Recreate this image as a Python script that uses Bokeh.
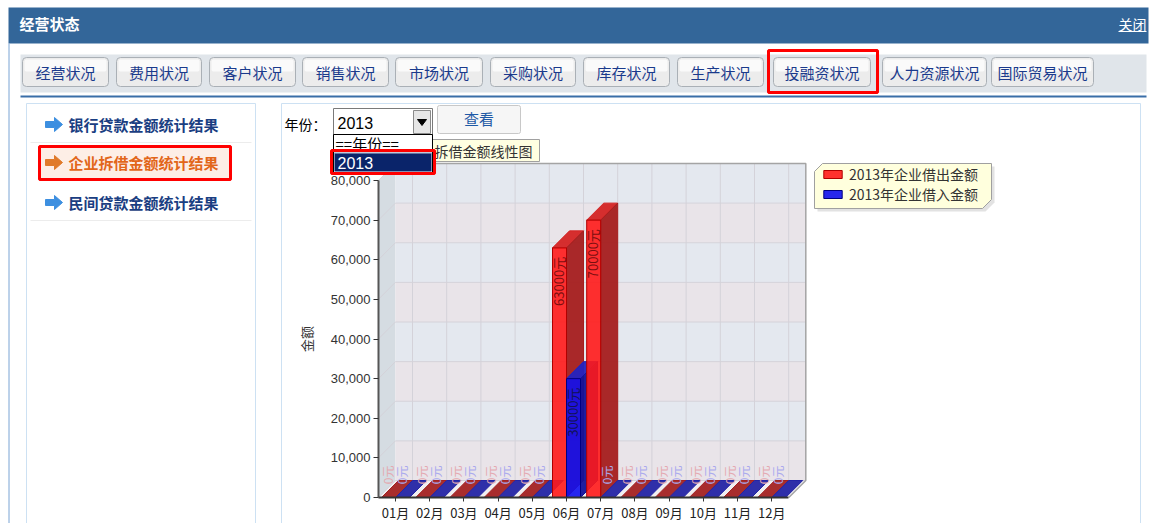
import math
from bokeh.plotting import figure
from bokeh.models import (Range1d, LinearAxis, FixedTicker, NumeralTickFormatter,
                          Legend, LegendItem)
from bokeh.core.properties import value
from bokeh.embed import file_html
from bokeh.resources import INLINE

# ---------------- data ----------------
months = ["01月", "02月", "03月", "04月", "05月", "06月",
          "07月", "08月", "09月", "10月", "11月", "12月"]
lent_out = [0, 0, 0, 0, 0, 63000, 70000, 0, 0, 0, 0, 0]      # 2013年企业借出金额
borrowed_in = [0, 0, 0, 0, 0, 30000, 0, 0, 0, 0, 0, 0]       # 2013年企业借入金额
series_names = ["2013年企业借出金额", "2013年企业借入金额"]
y_ticks = [0, 10000, 20000, 30000, 40000, 50000, 60000, 70000, 80000]
value_unit = "元"
y_title = "金额"
chart_title = "拆借金额线性图"
header_title = "经营状态"
close_text = "关闭"
tabs = ["经营状况", "费用状况", "客户状况", "销售状况", "市场状况", "采购状况",
        "库存状况", "生产状况", "投融资状况", "人力资源状况", "国际贸易状况"]
side_menu = ["银行贷款金额统计结果", "企业拆借金额统计结果", "民间贷款金额统计结果"]
year_label = "年份："
year_options = ["==年份==", "2013"]
view_button = "查看"

# ---------------- page geometry (pixels) ----------------
W, H = 1154, 523
PX_L, PX_R, PX_T, PX_B = 0, W, 0, H
CJK_NAME, LAT_NAME = "Noto Sans CJK SC", "Liberation Sans"
CJK = value(CJK_NAME)
LAT = value(LAT_NAME)

p = figure(width=W, height=H, x_range=Range1d(PX_L, PX_R), y_range=Range1d(PX_B, PX_T),
           x_axis_type=None, y_axis_type=None, toolbar_location=None,
           output_backend="svg", min_border=0, outline_line_color=None,
           background_fill_color="white", border_fill_color="white")


def box(l, r, t, b, fill, line=None, lw=1, **kw):
    return p.quad(left=[l], right=[r], top=[t], bottom=[b], fill_color=fill,
                  line_color=line, line_width=lw, **kw)


def txt(x, y, s, size="14px", color="#000000", font=CJK, align="left", style="normal"):
    p.text(x=[x], y=[y], text=[s], text_font=font, text_font_size=size,
           text_color=color, text_align=align, text_baseline="middle",
           text_font_style=style)


# ---------------- page chrome ----------------
box(8, 1148, 7, 43, "#336699")
txt(19, 23, header_title, "15px", "white", style="bold")
txt(1146, 23, close_text, "14px", "white", align="right")
p.segment(x0=[1118], x1=[1146], y0=[31], y1=[31], line_color="white", line_width=1)
p.segment(x0=[8.5], x1=[8.5], y0=[43], y1=[PX_B], line_color="#7aa4d4", line_width=1)

box(20, 1146, 54, 92, "#e0e5ea")
tab_x = [(22, 108), (116, 201), (209, 295), (302, 388), (395, 482), (490, 575),
         (583, 669), (677, 763), (773, 870), (882, 986), (991, 1093)]
for (l, r), name in zip(tab_x, tabs):
    box(l, r, 57, 86, "#ececec", "#aab0b6", border_radius=4)
    box(l + 2, r - 2, 59, 71, "#fafafa", border_radius=2)
    txt((l + r) / 2, 71.5, name, "15px", "#1a3a8c", align="center")
box(768, 877, 50, 92, None, "#ff0000", 3)
box(20, 1146, 95, 97, "#3a6ea8")

# left menu panel
box(26, 255, 103, PX_B + 20, "white", "#cde1f3")
p.segment(x0=[30, 30], x1=[251, 251], y0=[142, 220], y1=[142, 220], line_color="#ececec")
box(40, 229, 147, 178, "#fdeee6")
menu_y = [124, 162, 202]
menu_col = ["#1a3e82", "#e2661a", "#1a3e82"]
arrow_col = ["#3d8fe0", "#e07a2a", "#3d8fe0"]
axs, ays = [], []
for cy in menu_y:
    axs.append([45, 54, 54, 62, 54, 54, 45])
    ays.append([cy - 3, cy - 3, cy - 7, cy, cy + 7, cy + 3, cy + 3])
p.patches(xs=axs, ys=ays, fill_color=arrow_col, line_color=arrow_col)
for cy, name, c in zip(menu_y, side_menu, menu_col):
    txt(68, cy, name, "15px", c, style="bold")
box(39, 230, 146, 179, None, "#ff0000", 3)

# chart panel
box(281, 1140, 103, PX_B + 20, "white", "#cde1f3")
txt(284, 123, year_label, "14px", "#000000")
box(333, 432, 108, 135, "white", "#7a7a7a")
box(413, 430, 110, 133, "#e6e6e6", "#8a8a8a")
p.patch(x=[417, 426, 421.5], y=[119, 119, 125], fill_color="black", line_color="black")
txt(337, 122, year_options[1], "16px", "#000000", font=LAT)
box(437, 520, 105, 133, "#f6f6f6", "#c8c8c8", border_radius=2)
txt(478.5, 118, view_button, "15px", "#1f5aa6", align="center")
box(432, 539, 139, 161, "#ffffe1", "#a0a0a0")
txt(434, 150, chart_title, "14px", "#333333")

# ---------------- chart scales ----------------
AX_X, ZERO_Y, TOP_Y = 378, 497, 180
M0_X, M_STEP = 395, 34.2
DEPTH, BAR_PX = 17, 14
top_v = y_ticks[-1]
K = top_v / (ZERO_Y - TOP_Y)
p.extra_y_ranges = {"amt": Range1d(-(PX_B - ZERO_Y) * K, top_v + (TOP_Y - PX_T) * K)}
p.extra_x_ranges = {"mo": Range1d((PX_L - M0_X) / M_STEP, (PX_R - M0_X) / M_STEP)}
ddx, ddy, bw = DEPTH / M_STEP, DEPTH * K, BAR_PX / M_STEP
x_lo, x_hi = -0.5, len(months) - 0.5
RN = dict(x_range_name="mo", y_range_name="amt")

# walls
p.patch(x=[x_lo, x_lo, x_lo + ddx, x_lo + ddx], y=[0, top_v, top_v + ddy, ddy],
        fill_color="#d5dce2", line_color=None, **RN)
band_col = ["#e9e4e9" if k % 2 == 0 else "#e4e8ef" for k in range(len(y_ticks) - 1)]
p.quad(left=x_lo + ddx, right=x_hi + ddx, bottom=[t + ddy for t in y_ticks[:-1]],
       top=[t + ddy for t in y_ticks[1:]], fill_color=band_col, line_color=None, **RN)
p.patch(x=[x_lo, x_hi, x_hi + ddx, x_lo + ddx], y=[0, 0, ddy, ddy],
        fill_color="#f1eff1", line_color=None, **RN)
gx, gy = [], []
for t in y_ticks:
    gx.append([x_lo, x_lo + ddx, x_hi + ddx]); gy.append([t, t + ddy, t + ddy])
for i in range(len(months)):
    gx.append([i + ddx, i + ddx]); gy.append([ddy, top_v + ddy])
p.multi_line(xs=gx, ys=gy, line_color="#d4d2d9", line_width=1, **RN)
p.multi_line(xs=[[x_lo + ddx, x_hi + ddx, x_hi + ddx, x_hi]],
             ys=[[top_v + ddy, top_v + ddy, ddy, 0]], line_color="#a4a4a4", line_width=1.5, **RN)

# 3D bars
styles = [dict(front="#ff1a1a", top="#d42424", side="#a51e1e", zero="#a32222",
               edge="#b00000", label="#7a0f0f", zlabel="#e4a9b0"),
          dict(front="#0f0fee", top="#2323c0", side="#12129a", zero="#2424a4",
               edge="#000080", label="#121255", zlabel="#a9a9ee")]
back_layers, front_layers, label_rows = [], [], []
for s, (vals, st) in enumerate(zip([lent_out, borrowed_in], styles)):
    xs, ys, cols = [], [], []
    fl, fr, ft = [], [], []
    for i, v in enumerate(vals):
        left = i - bw + s * bw
        right = left + bw
        xs.append([left, right, right + ddx, left + ddx])
        ys.append([v, v, v + ddy, v + ddy])
        cols.append(st["top"] if v > 0 else st["zero"])
        if v > 0:
            xs.append([right, right, right + ddx, right + ddx])
            ys.append([0, v, v + ddy, ddy])
            cols.append(st["side"])
            fl.append(left); fr.append(right); ft.append(v)
        label_rows.append((left + bw / 2, v, st))
    back_layers.append((xs, ys, cols))
    front_layers.append((fl, fr, ft, st))

for xs, ys, cols in back_layers:
    p.patches(xs=xs, ys=ys, fill_color=cols, line_color=cols, fill_alpha=0.95, **RN)
front_r = []
for fl, fr, ft, st in front_layers:
    front_r.append(p.quad(left=fl, right=fr, bottom=0, top=ft, fill_color=st["front"],
                          fill_alpha=0.9, line_color=st["edge"], **RN))

lx = [r[0] for r in label_rows]
ly = [r[1] for r in label_rows]
lt = [f"{r[1]}{value_unit}" for r in label_rows]
lc = [r[2]["label"] if r[1] > 0 else r[2]["zlabel"] for r in label_rows]
lo = [9 if r[1] > 0 else -32 for r in label_rows]
lsz = ["13px" if r[1] > 0 else "12px" for r in label_rows]
p.text(x=lx, y=ly, text=lt, angle=math.pi / 2, text_align="right", text_baseline="middle",
       y_offset=lo, x_offset=-1, text_color=lc, text_font=CJK, text_font_size=lsz, **RN)

# axes
xaxis = LinearAxis(x_range_name="mo", fixed_location=ZERO_Y,
                   ticker=FixedTicker(ticks=list(range(len(months)))),
                   major_label_overrides={i: m for i, m in enumerate(months)},
                   bounds=(x_lo, x_hi), axis_line_color="#333333", axis_line_width=2,
                   major_tick_out=4, major_tick_in=0, major_tick_line_color="#333333",
                   minor_tick_line_color=None, major_label_standoff=1,
                   major_label_text_font=CJK_NAME, major_label_text_font_size="13px",
                   major_label_text_color="#222222")
p.add_layout(xaxis, "below")
yaxis = LinearAxis(y_range_name="amt", fixed_location=AX_X,
                   ticker=FixedTicker(ticks=y_ticks), formatter=NumeralTickFormatter(format="0,0"),
                   bounds=(y_ticks[0], top_v), axis_line_color="#555555", axis_line_width=2,
                   major_tick_out=5, major_tick_in=0, major_tick_line_color="#333333",
                   minor_tick_line_color=None, major_label_standoff=3,
                   major_label_text_font=LAT_NAME, major_label_text_font_size="13px",
                   major_label_text_color="#333333",
                   axis_label=y_title, axis_label_text_font=CJK_NAME, axis_label_text_font_size="13px",
                   axis_label_text_font_style="normal", axis_label_text_color="#333333",
                   axis_label_standoff=12)
p.add_layout(yaxis, "left")

# legend
p.patch(x=[817, 825, 994, 994, 985, 817], y=[174, 166, 166, 202, 211, 211],
        fill_color="#cfcfcf", fill_alpha=0.6, line_color=None)
p.patch(x=[814, 822, 991, 991, 982, 814], y=[171, 163, 163, 199, 208, 208],
        fill_color="#ffffdd", line_color="#a0a0a0")
legend = Legend(items=[LegendItem(label=n, renderers=[r]) for n, r in zip(series_names, front_r)],
                location=(817 - PX_L, PX_B - 208), background_fill_alpha=0, border_line_alpha=0,
                padding=4, spacing=-2, margin=0, glyph_width=23, glyph_height=10,
                label_height=16, label_standoff=5, label_text_font=CJK_NAME,
                label_text_font_size="14px", label_text_color="#333333")
p.add_layout(legend)

# open dropdown list (on top)
box(333, 432, 134, 174, "white", "#000000")
txt(335, 142.5, year_options[0], "15px", "#000000")
box(334, 431, 153, 171, "#0a246a")
p.segment(x0=[334], x1=[431], y0=[152.5], y1=[152.5], line_color="#0a246a", line_dash="1 1")
txt(337, 162, year_options[1], "16px", "white", font=LAT)
box(331, 434, 150, 173, None, "#ff0000", 3)

open("out.html", "w").write(file_html(p, INLINE))
